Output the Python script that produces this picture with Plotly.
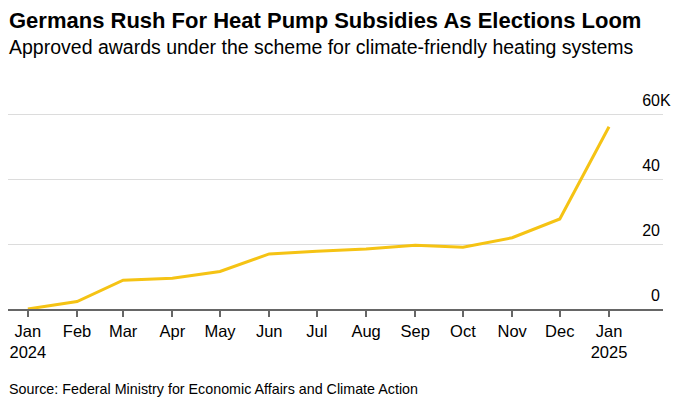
import plotly.graph_objects as go

months = ["2024-01-01", "2024-02-01", "2024-03-01", "2024-04-01", "2024-05-01",
          "2024-06-01", "2024-07-01", "2024-08-01", "2024-09-01", "2024-10-01",
          "2024-11-01", "2024-12-01", "2025-01-01"]
awards = [0, 2300, 8900, 9500, 11600, 17000, 17800, 18500, 19700, 19100, 22000, 27800, 56300]

tick_labels = ["Jan<br>2024", "Feb", "Mar", "Apr", "May", "Jun", "Jul", "Aug",
               "Sep", "Oct", "Nov", "Dec", "Jan<br>2025"]
y_tickvals = [0, 20000, 40000, 60000]
y_ticktext = ["0", "20", "40", "60"]

FONT = "Liberation Sans, Arial, sans-serif"

W, H = 673, 401          # page has an 8px body margin
ML, MR, MT, MB = 0, 18, 80, 100
OFF = 8


def px_x(px):
    return (px - OFF - ML) / (W - ML - MR)


def px_y(py):
    return (H - MB - (py - OFF)) / (H - MT - MB)


fig = go.Figure()
fig.add_trace(go.Scatter(
    x=months, y=awards, mode="lines",
    line=dict(color="#F5C314", width=3),
    hoverinfo="skip",
))

fig.update_layout(
    width=W, height=H,
    margin=dict(l=ML, r=MR, t=MT, b=MB, pad=0),
    paper_bgcolor="white", plot_bgcolor="white",
    showlegend=False,
    font=dict(family=FONT, color="#000"),
    xaxis=dict(
        type="date",
        range=["2023-12-19 12:00", "2025-02-04"],
        tickvals=months, ticktext=tick_labels,
        showgrid=False, zeroline=False,
        showline=True, linecolor="#666", linewidth=2,
        ticks="outside", ticklen=6, tickcolor="#666", tickwidth=1.5,
        tickfont=dict(size=16.5, family=FONT, color="#000"),
    ),
    yaxis=dict(
        range=[0, 68250],
        side="right",
        tickvals=y_tickvals, ticktext=y_ticktext,
        ticklabelposition="inside",
        ticklabelshift=-14,
        ticklabelstandoff=0,
        showgrid=True, gridcolor="#dcdcdc", gridwidth=1,
        zeroline=False, showline=False, ticks="",
        tickfont=dict(size=16, family=FONT, color="#000"),
    ),
    annotations=[
        dict(text="<b>Germans Rush For Heat Pump Subsidies As Elections Loom</b>",
             x=px_x(7), y=px_y(21), xref="paper", yref="paper", xanchor="left",
             yanchor="middle", showarrow=False,
             font=dict(size=22, family=FONT, color="#000")),
        dict(text="Approved awards under the scheme for climate-friendly heating systems",
             x=px_x(7), y=px_y(47), xref="paper", yref="paper", xanchor="left",
             yanchor="middle", showarrow=False,
             font=dict(size=19.5, family=FONT, color="#000")),
        dict(text="Source: Federal Ministry for Economic Affairs and Climate Action",
             x=px_x(7), y=px_y(389), xref="paper", yref="paper", xanchor="left",
             yanchor="middle", showarrow=False,
             font=dict(size=14.3, family=FONT, color="#000")),
        dict(text="K", x=1, y=60000, xref="paper", yref="y", xanchor="left",
             yanchor="middle", yshift=14, xshift=-5, showarrow=False,
             font=dict(size=16, family=FONT, color="#000")),
    ],
)

fig.write_html("out.html")
